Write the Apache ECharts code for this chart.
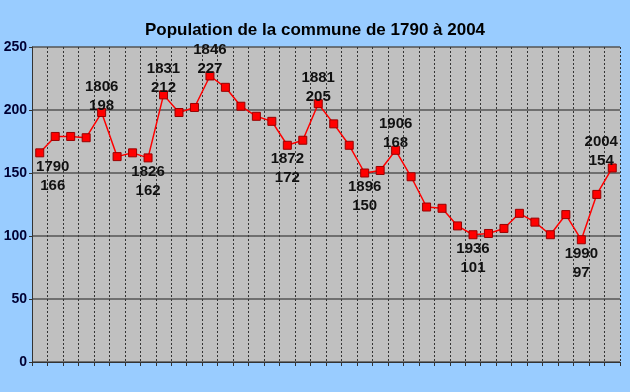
<!DOCTYPE html>
<html>
<head>
<meta charset="utf-8">
<script src="https://cdn.jsdelivr.net/npm/echarts@6/dist/echarts.min.js"></script>
<style>html,body{margin:0;padding:0;background:#99CCFF;}#c{width:630px;height:392px;}</style>
</head>
<body>
<div id="c"></div>
<script>
var years = [1790,1793,1800,1803,1806,1816,1821,1826,1831,1836,1841,1846,1851,1856,1861,1866,1872,1876,1881,1886,1891,1896,1901,1906,1911,1921,1926,1931,1936,1946,1954,1962,1968,1975,1982,1990,1999,2004];
var population = [166,179,179,178,198,163,166,162,212,198,202,227,218,203,195,191,172,176,205,189,172,150,152,168,147,123,122,108,101,102,106,118,111,101,117,97,133,154];
var labelledYears = [1790,1806,1826,1831,1846,1872,1881,1896,1906,1936,1990,2004];
var yTicks = [0,50,100,150,200,250];
var titleText = 'Population de la commune de 1790 à 2004';

// label placement (style only)
var belowYears = [1790,1826,1872,1896,1936,1990];
var labelShift = {1790:[13,0], 2004:[-11,0]};

var seriesData = population.map(function(v,i){
  var y = years[i];
  var item = {value: v};
  if (labelledYears.indexOf(y) >= 0) {
    var below = belowYears.indexOf(y) >= 0;
    item.label = {
      show: true,
      position: below ? 'bottom' : 'top',
      distance: below ? 0 : -7,
      offset: labelShift[y] || [0,0],
      formatter: y + '\n' + v
    };
  }
  return item;
});

var chart = echarts.init(document.getElementById('c'), null, {renderer:'canvas'});
chart.setOption({
  backgroundColor: '#99CCFF',
  animation: false,
  title: {
    text: titleText,
    left: 'center',
    top: 17,
    textStyle: {fontFamily: 'Liberation Sans, Arial, sans-serif', fontSize: 17, fontWeight: 'bold', color: '#000000'}
  },
  grid: {left: 32, right: 10, top: 47, bottom: 30, show: true, backgroundColor: '#C0C0C0', borderWidth: 0},
  xAxis: {
    type: 'category',
    data: years,
    boundaryGap: true,
    axisLine: {show: true, lineStyle: {color: '#333333', width: 1}},
    axisTick: {show: true, length: 4, interval: 0, lineStyle: {color: '#333333'}},
    axisLabel: {show: false},
    splitLine: {show: true, interval: 0, lineStyle: {color: '#333333', type: [2,2], width: 1}}
  },
  yAxis: {
    type: 'value',
    min: yTicks[0],
    max: yTicks[yTicks.length-1],
    interval: 50,
    axisLine: {show: true, lineStyle: {color: '#333333', width: 1}},
    axisTick: {show: true, length: 3, lineStyle: {color: '#333333'}},
    axisLabel: {margin: 5, fontFamily: 'Liberation Sans, Arial, sans-serif', fontSize: 14, fontWeight: 'bold', color: '#000033'},
    splitLine: {show: true, lineStyle: {color: '#555555', width: 1.5}}
  },
  series: [{
    type: 'line',
    data: seriesData,
    symbol: 'rect',
    symbolSize: 8,
    lineStyle: {color: '#FF0000', width: 1.5},
    itemStyle: {color: '#FF0000', borderColor: '#990000', borderWidth: 1},
    label: {
      show: false,
      fontFamily: 'Liberation Sans, Arial, sans-serif',
      fontSize: 15,
      fontWeight: 'bold',
      color: '#111111',
      lineHeight: 19
    },
    z: 5
  }]
});
</script>
</body>
</html>
